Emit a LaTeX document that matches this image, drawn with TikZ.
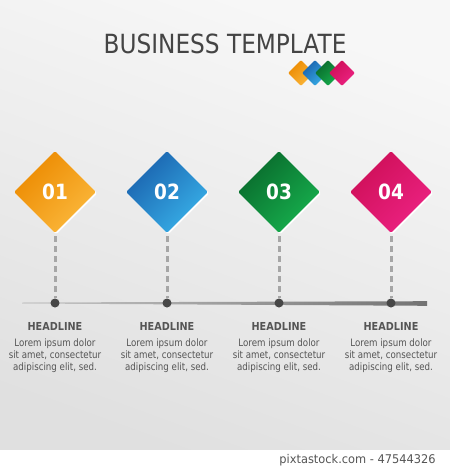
\documentclass[tikz,border=0pt]{standalone}
\usepackage{fontspec}
\setmainfont{DejaVu Sans}
\usetikzlibrary{shapes.geometric,shadows}
\definecolor{txt}{HTML}{555555}
\definecolor{ttl}{HTML}{444444}
\definecolor{oA}{HTML}{EC8A00}\definecolor{oB}{HTML}{FBB83C}
\definecolor{bA}{HTML}{1A62AE}\definecolor{bB}{HTML}{38B0E8}
\definecolor{gA}{HTML}{096A2C}\definecolor{gB}{HTML}{17B04E}
\definecolor{pA}{HTML}{CE0F58}\definecolor{pB}{HTML}{EC2282}
\newcommand\narrowtxt[1]{\scalebox{0.88}[1]{#1}}
\tikzset{
  dshade/.style 2 args={top color=#1, bottom color=#2, shading angle=45},
  bigdia/.style={diamond, minimum width=82pt, minimum height=82pt, inner sep=0pt,
    rounded corners=1.5pt, text=white, font=\bfseries\fontsize{21}{21}\selectfont,
    drop shadow={shadow xshift=1.3pt, shadow yshift=-1.3pt, fill=white, opacity=0.95}},
  smdia/.style={diamond, minimum width=26pt, minimum height=26pt, inner sep=0pt,
    rounded corners=1pt},
  dot/.style={circle, fill=black!72, minimum size=9pt, inner sep=0pt},
  dashline/.style={draw=black!35, line width=3pt, dash pattern=on 6pt off 4pt, shorten <=3pt},
  headtxt/.style={text=txt, font=\bfseries\fontsize{11}{11}\selectfont, xscale=0.88},
  bodytxt/.style={text=txt, font=\fontsize{10.2}{12}\selectfont, align=center, xscale=0.85},
}
\begin{document}
\begin{tikzpicture}[x=1pt,y=-1pt]
\useasboundingbox (0,0) rectangle (450,469);
\shade[top color=black!3, bottom color=black!12, shading angle=-20] (0,0) rectangle (450,450);
\fill[white] (0,450) rectangle (450,469);
% title
\node[text=ttl, font=\fontsize{26.4}{26.4}\selectfont, xscale=0.88] (title) at (225,44) {BUSINESS TEMPLATE};
% small diamonds
\node[smdia, dshade={oA}{oB}] (s1) at (301,73) {};
\node[smdia, dshade={bA}{bB}] (s2) at (315,73) {};
\node[smdia, dshade={gA}{gB}] (s3) at (328,73) {};
\node[smdia, dshade={pA}{pB}] (s4) at (342,73) {};
% timeline
\coordinate (L) at (22,303);
\coordinate (R) at (427,303.5);
\shade[left color=black!22, right color=black!55]
  ([yshift=-0.5pt]L) -- ([yshift=-2.3pt]R) -- ([yshift=2.3pt]R) -- ([yshift=0.5pt]L) -- cycle;
% big diamonds
\node[bigdia, dshade={oA}{oB}] (d1) at (55,192) {\narrowtxt{01}};
\node[bigdia, dshade={bA}{bB}] (d2) at (167,192) {\narrowtxt{02}};
\node[bigdia, dshade={gA}{gB}] (d3) at (279,192) {\narrowtxt{03}};
\node[bigdia, dshade={pA}{pB}] (d4) at (391,192) {\narrowtxt{04}};
% dots
\node[dot] (p1) at (55,303) {};
\node[dot] (p2) at (167,303) {};
\node[dot] (p3) at (279,303) {};
\node[dot] (p4) at (391,303) {};
\foreach \i in {1,...,4} \draw[dashline] (d\i.south) -- (p\i.north);
% texts
\foreach \i/\x in {1/55,2/167,3/279,4/391}{
  \node[headtxt] (h\i) at (\x,326) {HEADLINE};
  \node[bodytxt] (b\i) at (\x,356) {Lorem ipsum dolor\\sit amet, consectetur\\adipiscing elit, sed.};
}
\node[text=txt, font=\fontsize{12}{12}\selectfont, xscale=0.95, anchor=east] (credit) at (439,460) {pixtastock.com - 47544326};
\end{tikzpicture}
\end{document}
